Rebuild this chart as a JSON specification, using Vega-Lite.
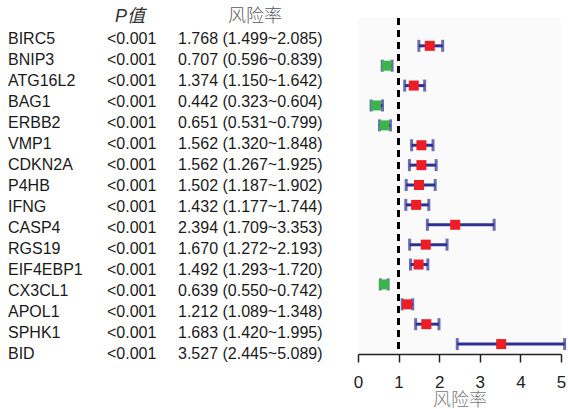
{
  "$schema": "https://vega.github.io/schema/vega-lite/v6.json",
  "padding": {"left": 8, "top": 8, "right": 0, "bottom": 0},
  "background": "white",
  "bounds": "flush",
  "spacing": 0,
  "config": {
    "font": "Liberation Sans, Noto Sans CJK SC",
    "view": {"stroke": null},
    "title": {"fontSize": 18, "fontWeight": "normal", "anchor": "start", "frame": "group", "baseline": "middle", "offset": -8}
  },
  "datasets": {
    "genes": [
      {"gene": "BIRC5", "p": "<0.001", "hr": 1.768, "lo": 1.499, "hi": 2.085, "hrText": "1.768 (1.499~2.085)", "risk": "high"},
      {"gene": "BNIP3", "p": "<0.001", "hr": 0.707, "lo": 0.596, "hi": 0.839, "hrText": "0.707 (0.596~0.839)", "risk": "low"},
      {"gene": "ATG16L2", "p": "<0.001", "hr": 1.374, "lo": 1.150, "hi": 1.642, "hrText": "1.374 (1.150~1.642)", "risk": "high"},
      {"gene": "BAG1", "p": "<0.001", "hr": 0.442, "lo": 0.323, "hi": 0.604, "hrText": "0.442 (0.323~0.604)", "risk": "low"},
      {"gene": "ERBB2", "p": "<0.001", "hr": 0.651, "lo": 0.531, "hi": 0.799, "hrText": "0.651 (0.531~0.799)", "risk": "low"},
      {"gene": "VMP1", "p": "<0.001", "hr": 1.562, "lo": 1.320, "hi": 1.848, "hrText": "1.562 (1.320~1.848)", "risk": "high"},
      {"gene": "CDKN2A", "p": "<0.001", "hr": 1.562, "lo": 1.267, "hi": 1.925, "hrText": "1.562 (1.267~1.925)", "risk": "high"},
      {"gene": "P4HB", "p": "<0.001", "hr": 1.502, "lo": 1.187, "hi": 1.902, "hrText": "1.502 (1.187~1.902)", "risk": "high"},
      {"gene": "IFNG", "p": "<0.001", "hr": 1.432, "lo": 1.177, "hi": 1.744, "hrText": "1.432 (1.177~1.744)", "risk": "high"},
      {"gene": "CASP4", "p": "<0.001", "hr": 2.394, "lo": 1.709, "hi": 3.353, "hrText": "2.394 (1.709~3.353)", "risk": "high"},
      {"gene": "RGS19", "p": "<0.001", "hr": 1.670, "lo": 1.272, "hi": 2.193, "hrText": "1.670 (1.272~2.193)", "risk": "high"},
      {"gene": "EIF4EBP1", "p": "<0.001", "hr": 1.492, "lo": 1.293, "hi": 1.720, "hrText": "1.492 (1.293~1.720)", "risk": "high"},
      {"gene": "CX3CL1", "p": "<0.001", "hr": 0.639, "lo": 0.550, "hi": 0.742, "hrText": "0.639 (0.550~0.742)", "risk": "low"},
      {"gene": "APOL1", "p": "<0.001", "hr": 1.212, "lo": 1.089, "hi": 1.348, "hrText": "1.212 (1.089~1.348)", "risk": "high"},
      {"gene": "SPHK1", "p": "<0.001", "hr": 1.683, "lo": 1.420, "hi": 1.995, "hrText": "1.683 (1.420~1.995)", "risk": "high"},
      {"gene": "BID", "p": "<0.001", "hr": 3.527, "lo": 2.445, "hi": 5.089, "hrText": "3.527 (2.445~5.089)", "risk": "high"}
    ]
  },
  "hconcat": [
    {
      "data": {"name": "genes"},
      "width": 99,
      "height": 336,
      "mark": {"type": "text", "align": "left", "baseline": "middle", "fontSize": 16, "color": "#1a1a1a"},
      "encoding": {
        "y": {"field": "gene", "type": "nominal", "sort": null, "axis": null, "scale": {"paddingInner": 0, "paddingOuter": 0.45, "align": 1}},
        "x": {"datum": 0, "type": "quantitative", "scale": {"domain": [0, 1]}, "axis": null},
        "text": {"field": "gene"}
      }
    },
    {
      "data": {"name": "genes"},
      "width": 71,
      "height": 336,
      "title": {"text": "P值", "fontStyle": "italic", "color": "#333333", "dx": 8},
      "mark": {"type": "text", "align": "left", "baseline": "middle", "fontSize": 16, "color": "#1a1a1a"},
      "encoding": {
        "y": {"field": "gene", "type": "nominal", "sort": null, "axis": null, "scale": {"paddingInner": 0, "paddingOuter": 0.45, "align": 1}},
        "x": {"datum": 0, "type": "quantitative", "scale": {"domain": [0, 1]}, "axis": null},
        "text": {"field": "p"}
      }
    },
    {
      "data": {"name": "genes"},
      "width": 180,
      "height": 336,
      "title": {"text": "风险率", "color": "#5a5a5a", "dx": 50, "font": "Noto Sans CJK SC", "fontWeight": 300},
      "mark": {"type": "text", "align": "left", "baseline": "middle", "fontSize": 16, "color": "#1a1a1a"},
      "encoding": {
        "y": {"field": "gene", "type": "nominal", "sort": null, "axis": null, "scale": {"paddingInner": 0, "paddingOuter": 0.45, "align": 1}},
        "x": {"datum": 0, "type": "quantitative", "scale": {"domain": [0, 1]}, "axis": null},
        "text": {"field": "hrText"}
      }
    },
    {
      "data": {"name": "genes"},
      "width": 203,
      "height": 336,
      "view": {"fill": "#fafafa", "stroke": null},
      "encoding": {
        "y": {"field": "gene", "type": "nominal", "sort": null, "axis": null, "scale": {"paddingInner": 0, "paddingOuter": 0.45, "align": 1}}
      },
      "layer": [
        {
          "mark": {"type": "rule", "strokeDash": [7, 5], "strokeWidth": 2.5, "color": "#000000"},
          "encoding": {
            "x": {"datum": 1, "type": "quantitative"},
            "y": null
          }
        },
        {
          "mark": {"type": "rule", "strokeWidth": 3, "color": "#2e3192"},
          "encoding": {
            "x": {"field": "lo", "type": "quantitative", "scale": {"domain": [0, 5], "nice": false, "zero": false},
              "axis": {"values": [0, 1, 2, 3, 4, 5], "grid": false, "tickSize": 8, "tickWidth": 1.5, "tickColor": "#222222", "domainColor": "#222222", "domainWidth": 1.5, "labelFontSize": 17, "labelColor": "#222222", "labelPadding": 12, "labelFlush": false, "title": "风险率", "titleFont": "Noto Sans CJK SC", "titleFontSize": 18, "titleFontWeight": 300, "titleColor": "#777777", "titlePadding": 1}},
            "x2": {"field": "hi"}
          }
        },
        {
          "mark": {"type": "tick", "orient": "vertical", "size": 12, "thickness": 3, "color": "#2e3192"},
          "encoding": {"x": {"field": "lo", "type": "quantitative"}}
        },
        {
          "mark": {"type": "tick", "orient": "vertical", "size": 12, "thickness": 3, "color": "#2e3192"},
          "encoding": {"x": {"field": "hi", "type": "quantitative"}}
        },
        {
          "mark": {"type": "point", "shape": "square", "filled": true, "size": 100, "opacity": 1},
          "encoding": {
            "x": {"field": "hr", "type": "quantitative"},
            "color": {"field": "risk", "type": "nominal", "scale": {"domain": ["high", "low"], "range": ["#ee1c25", "#3ab54a"]}, "legend": null}
          }
        }
      ]
    }
  ]
}
